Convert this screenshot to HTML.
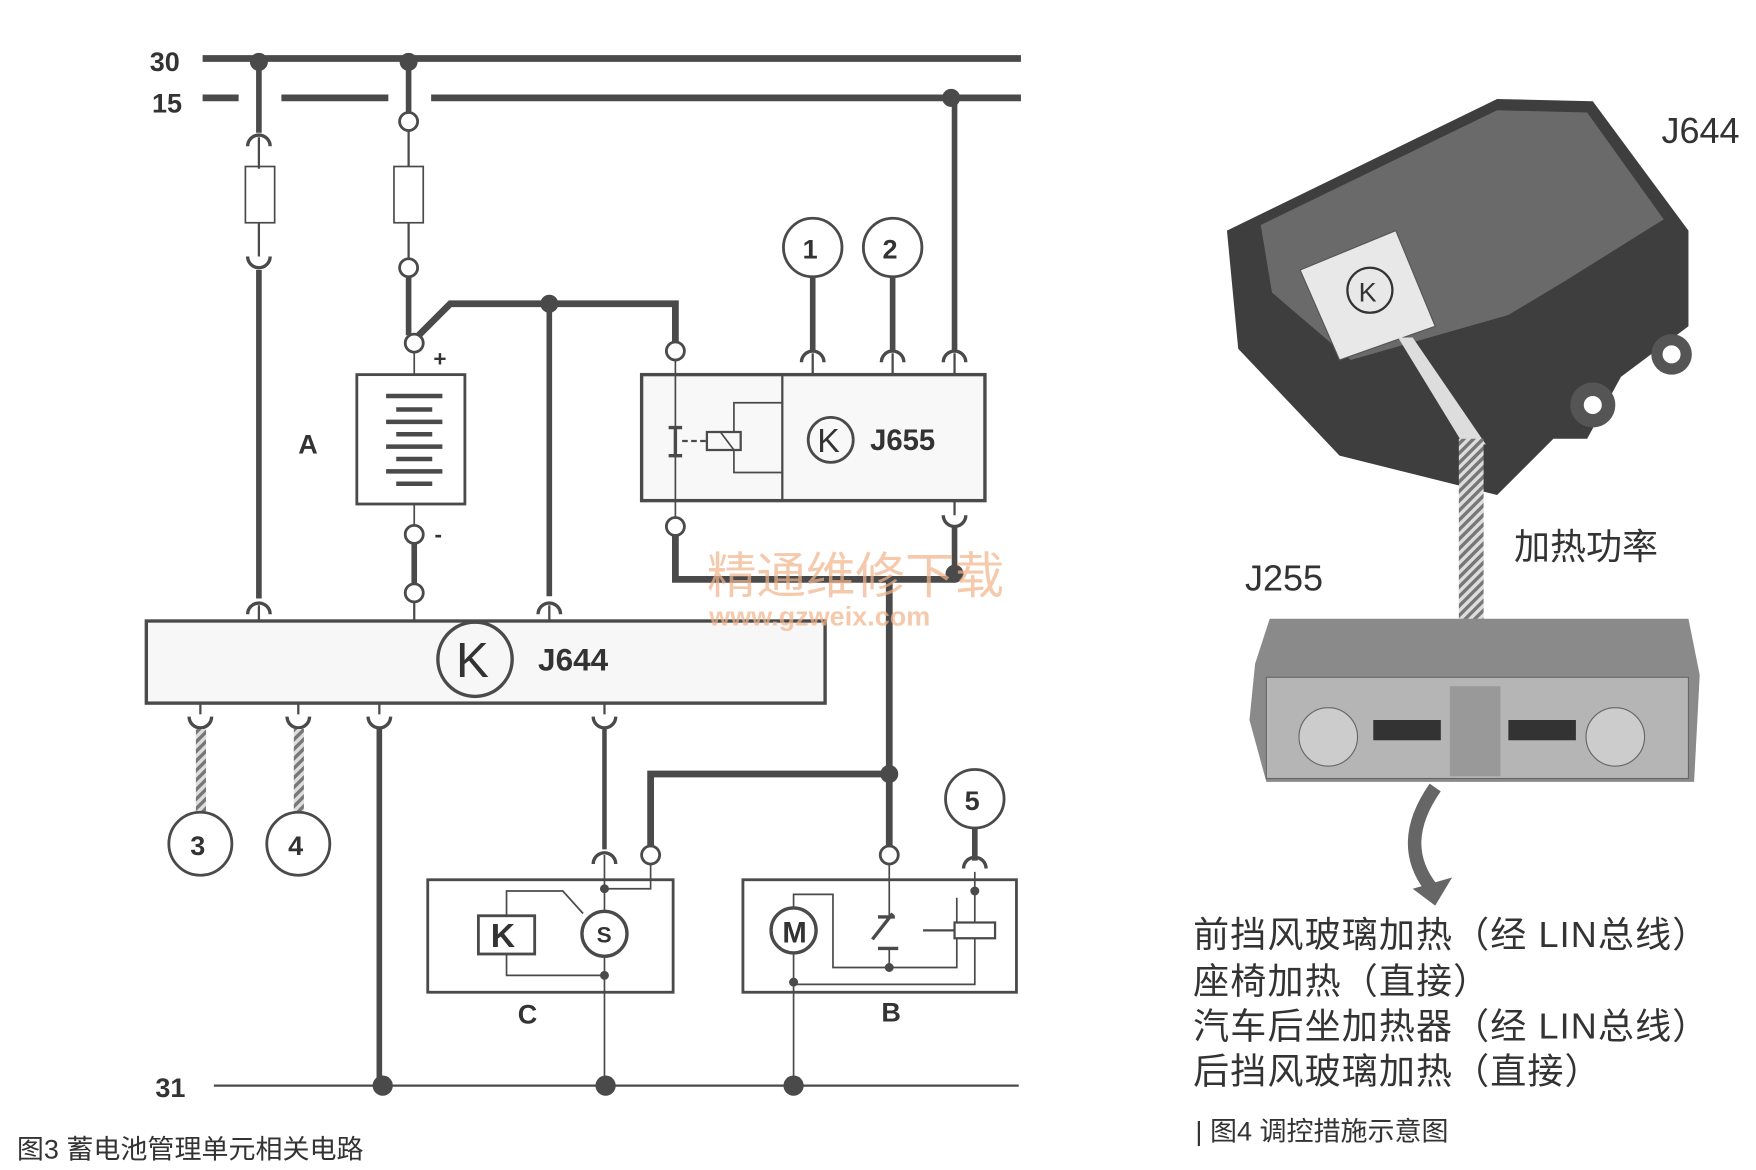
<!DOCTYPE html>
<html><head><meta charset="utf-8"><style>
html,body{margin:0;padding:0;background:#fff;}
svg{display:block;}
text{font-family:"Liberation Sans","Noto Sans CJK SC",sans-serif;}
</style></head><body>
<svg width="1756" height="1170" viewBox="0 0 1560 1040" preserveAspectRatio="none" xmlns="http://www.w3.org/2000/svg">
<defs>
<pattern id="hatch" width="6" height="6" patternUnits="userSpaceOnUse" patternTransform="rotate(45)">
<rect width="6" height="6" fill="#ddd"/><rect width="3" height="6" fill="#777"/></pattern>
</defs>
<g stroke="#4a4a4a" fill="none">
<line x1="180" y1="52" x2="907" y2="52" stroke-width="6"/>
<line x1="180" y1="87" x2="212" y2="87" stroke-width="6"/>
<line x1="250" y1="87" x2="345" y2="87" stroke-width="6"/>
<line x1="383" y1="87" x2="907" y2="87" stroke-width="6"/>
<line x1="190" y1="965" x2="905" y2="965" stroke-width="2"/>
<line x1="230" y1="55" x2="230" y2="118" stroke-width="5"/>
<path d="M220 130 A10 10 0 0 1 240 130" stroke-width="3"/>
<line x1="230" y1="122" x2="230" y2="150" stroke-width="2"/>
<rect x="218" y="148" width="26" height="50" stroke-width="1.5"/>
<line x1="230" y1="198" x2="230" y2="228" stroke-width="2"/>
<path d="M220 228 A10 10 0 0 0 240 228" stroke-width="3"/>
<line x1="230" y1="240" x2="230" y2="532" stroke-width="5"/>
<path d="M220 546 A10 10 0 0 1 240 546" stroke-width="3"/>
<line x1="230" y1="538" x2="230" y2="552" stroke-width="2"/>
<line x1="363" y1="55" x2="363" y2="100" stroke-width="5"/>
<circle cx="363" cy="108" r="8" stroke-width="2.5" fill="#fff"/>
<line x1="363" y1="116" x2="363" y2="148" stroke-width="2"/>
<rect x="350" y="148" width="26" height="50" stroke-width="1.5"/>
<line x1="363" y1="198" x2="363" y2="230" stroke-width="2"/>
<circle cx="363" cy="238" r="8" stroke-width="2.5" fill="#fff"/>
<line x1="363" y1="246" x2="363" y2="298" stroke-width="5"/>
<circle cx="368" cy="305" r="8" stroke-width="2.5" fill="#fff"/>
<path d="M372 298 L400 270 L600 270 L600 304" stroke-width="6"/>
<circle cx="600" cy="312" r="8" stroke-width="2.5" fill="#fff"/>
<line x1="368" y1="313" x2="368" y2="333" stroke-width="1.5"/>
<rect x="317" y="333" width="96" height="115" stroke-width="2.5"/>
<line x1="368" y1="448" x2="368" y2="467" stroke-width="1.5"/>
<circle cx="368" cy="475" r="8" stroke-width="2.5" fill="#fff"/>
<line x1="368" y1="483" x2="368" y2="519" stroke-width="5"/>
<circle cx="368" cy="527" r="8" stroke-width="2.5" fill="#fff"/>
<line x1="368" y1="535" x2="368" y2="552" stroke-width="2"/>
<line x1="488" y1="270" x2="488" y2="530" stroke-width="5"/>
<path d="M478 546 A10 10 0 0 1 498 546" stroke-width="3"/>
<line x1="488" y1="538" x2="488" y2="552" stroke-width="2"/>
<rect x="130" y="552" width="603" height="73" stroke-width="3" fill="#f7f7f7"/>
<circle cx="422" cy="586" r="33" stroke-width="3"/>
<rect x="570" y="333" width="305" height="112" stroke-width="3" fill="#f8f8f8"/>
<line x1="695" y1="333" x2="695" y2="445" stroke-width="2"/>
<line x1="600" y1="320" x2="600" y2="460" stroke-width="1.5"/>
<path d="M594 380 H606 M600 380 V405 M594 405 H606" stroke-width="3"/>
<path d="M606 392 H628" stroke-width="2" stroke-dasharray="5 3"/>
<rect x="628" y="384" width="30" height="16" stroke-width="2"/>
<path d="M652 400 L640 384" stroke-width="1.5"/>
<path d="M652 384 V358 H695 M652 400 V420 H695" stroke-width="1.5"/>
<circle cx="738" cy="391" r="20" stroke-width="2.5"/>
<circle cx="600" cy="468" r="8" stroke-width="2.5" fill="#fff"/>
<path d="M600 476 V515 H848" stroke-width="6"/>
<line x1="790" y1="515" x2="790" y2="752" stroke-width="6"/>
<circle cx="790" cy="760" r="8" stroke-width="2.5" fill="#fff"/>
<path d="M790 688 H578 V752" stroke-width="6"/>
<circle cx="578" cy="760" r="8" stroke-width="2.5" fill="#fff"/>
<line x1="722" y1="246" x2="722" y2="312" stroke-width="5"/>
<line x1="793" y1="246" x2="793" y2="312" stroke-width="5"/>
<line x1="848" y1="87" x2="848" y2="312" stroke-width="5"/>
<path d="M712 322 A10 10 0 0 1 732 322 M783 322 A10 10 0 0 1 803 322 M838 322 A10 10 0 0 1 858 322" stroke-width="3"/>
<path d="M722 314 V333 M793 314 V333 M848 314 V333" stroke-width="2"/>
<path d="M848 445 V458" stroke-width="2"/>
<path d="M838 458 A10 10 0 0 0 858 458" stroke-width="3"/>
<line x1="848" y1="468" x2="848" y2="510" stroke-width="5"/>
<circle cx="722" cy="220" r="26" stroke-width="2.5"/>
<circle cx="793" cy="220" r="26" stroke-width="2.5"/>
<path d="M178 625 V635 M265 625 V635 M337 625 V635 M537 625 V635" stroke-width="2"/>
<path d="M168 637 A10 10 0 0 0 188 637 M255 637 A10 10 0 0 0 275 637 M327 637 A10 10 0 0 0 347 637 M527 637 A10 10 0 0 0 547 637" stroke-width="3"/>
<rect x="174" y="648" width="9" height="75" fill="url(#hatch)" stroke="none"/>
<rect x="261" y="648" width="9" height="75" fill="url(#hatch)" stroke="none"/>
<circle cx="178" cy="750" r="28" stroke-width="2.5"/>
<circle cx="265" cy="750" r="28" stroke-width="2.5"/>
<line x1="337" y1="648" x2="337" y2="965" stroke-width="5"/>
<line x1="537" y1="648" x2="537" y2="755" stroke-width="4"/>
<path d="M527 768 A10 10 0 0 1 547 768" stroke-width="3"/>
<rect x="380" y="782" width="218" height="100" stroke-width="2.5"/>
<path d="M537 760 V790 M578 768 V790 H537" stroke-width="1.5"/>
<line x1="537" y1="790" x2="537" y2="965" stroke-width="1.5"/>
<circle cx="537" cy="790" r="3.5" fill="#4a4a4a"/>
<circle cx="537" cy="867" r="3.5" fill="#4a4a4a"/>
<circle cx="537" cy="830" r="20" stroke-width="3" fill="#fff"/>
<rect x="425" y="814" width="50" height="34" stroke-width="2.5"/>
<path d="M450 814 V792 H500 L518 812 M450 848 V867 H537" stroke-width="1.5"/>
<rect x="660" y="782" width="243" height="100" stroke-width="2.5"/>
<line x1="790" y1="768" x2="790" y2="815" stroke-width="1.5"/>
<path d="M780 815 H795 M775 835 L793 812 M780 843 H798" stroke-width="3"/>
<path d="M790 843 V860 H850 V798" stroke-width="1.5"/>
<circle cx="790" cy="860" r="3.5" fill="#4a4a4a"/>
<line x1="866" y1="736" x2="866" y2="765" stroke-width="5"/>
<path d="M856 772 A10 10 0 0 1 876 772" stroke-width="3"/>
<path d="M866 775 V875 H705" stroke-width="1.5"/>
<circle cx="866" cy="792" r="3.5" fill="#4a4a4a"/>
<rect x="848" y="820" width="36" height="14" stroke-width="2" fill="#fff"/>
<path d="M820 827 H848" stroke-width="2"/>
<circle cx="866" cy="710" r="26" stroke-width="2.5"/>
<circle cx="705" cy="827" r="20" stroke-width="3" fill="#fff"/>
<path d="M705 807 V795 H740 V860 H790" stroke-width="1.5"/>
<line x1="705" y1="847" x2="705" y2="965" stroke-width="1.5"/>
<circle cx="705" cy="873" r="3.5" fill="#4a4a4a"/>
</g>
<g fill="#4a4a4a">
<rect x="343" y="350" width="50" height="4"/><rect x="352" y="362" width="32" height="4"/>
<rect x="343" y="373" width="50" height="4"/><rect x="352" y="384" width="32" height="4"/>
<rect x="343" y="395" width="50" height="4"/><rect x="352" y="406" width="32" height="4"/>
<rect x="343" y="417" width="50" height="4"/><rect x="352" y="428" width="32" height="4"/>
<circle cx="230" cy="55" r="8"/><circle cx="363" cy="55" r="8"/><circle cx="845" cy="87" r="8"/>
<circle cx="488" cy="270" r="8"/><circle cx="848" cy="510" r="8"/><circle cx="790" cy="688" r="8"/>
<circle cx="340" cy="965" r="9"/><circle cx="538" cy="965" r="9"/><circle cx="705" cy="965" r="9"/>
</g>
<g fill="#333" font-weight="bold">
<text x="133" y="63" font-size="24">30</text>
<text x="135" y="100" font-size="24">15</text>
<text x="138" y="975" font-size="24">31</text>
<text x="265" y="403" font-size="24">A</text>
<text x="385" y="326" font-size="20">+</text>
<text x="386" y="482" font-size="20">-</text>
<text x="460" y="910" font-size="24">C</text>
<text x="783" y="908" font-size="24">B</text>
<text x="405" y="602" font-size="44" font-weight="normal">K</text>
<text x="478" y="596" font-size="28">J644</text>
<text x="726" y="402" font-size="30" font-weight="normal">K</text>
<text x="773" y="400" font-size="26">J655</text>
<text x="713" y="230" font-size="24">1</text>
<text x="784" y="230" font-size="24">2</text>
<text x="169" y="760" font-size="24">3</text>
<text x="256" y="760" font-size="24">4</text>
<text x="857" y="720" font-size="24">5</text>
<text x="436" y="842" font-size="30">K</text>
<text x="695" y="838" font-size="26">M</text>
<text x="530" y="838" font-size="20">S</text>
</g>
<text x="628" y="527" font-size="44" fill="#f2b48a" opacity="0.7">精通维修下载</text>
<text x="630" y="556" font-size="24" fill="#f2b48a" opacity="0.7" font-weight="bold">www.gzweix.com</text>
<text x="15" y="1030" font-size="24" fill="#333">图3  蓄电池管理单元相关电路</text>
<polygon points="1090,205 1330,88 1415,90 1500,205 1500,290 1440,335 1410,390 1380,390 1330,440 1190,405 1100,310" fill="#3e3e3e"/>
<polygon points="1120,200 1330,98 1410,100 1478,195 1390,250 1340,280 1200,320 1130,260" fill="#6a6a6a"/>
<polygon points="1155,240 1240,205 1275,290 1190,320" fill="#e8e8e8" stroke="#555"/>
<circle cx="1217" cy="258" r="20" fill="none" stroke="#333" stroke-width="2"/>
<text x="1207" y="268" font-size="24" fill="#333">K</text>
<circle cx="1485" cy="315" r="18" fill="#555"/><circle cx="1485" cy="315" r="8" fill="#fff"/>
<circle cx="1415" cy="360" r="20" fill="#555"/><circle cx="1415" cy="360" r="8" fill="#fff"/>
<polygon points="1242,300 1300,395 1320,395 1255,300" fill="#ddd"/>
<rect x="1296" y="390" width="22" height="170" fill="url(#hatch)"/>
<text x="1476" y="127" font-size="32" fill="#333">J644</text>
<text x="1106" y="525" font-size="32" fill="#333">J255</text>
<text x="1345" y="497" font-size="32" fill="#333" font-family="Noto Sans CJK SC,sans-serif">加热功率</text>
<polygon points="1128,550 1500,550 1510,600 1505,695 1125,695 1110,640 1115,590" fill="#8a8a8a"/>
<rect x="1125" y="602" width="375" height="90" fill="#b5b5b5" stroke="#666"/>
<circle cx="1180" cy="655" r="26" fill="#ccc" stroke="#666"/>
<circle cx="1435" cy="655" r="26" fill="#ccc" stroke="#666"/>
<rect x="1220" y="640" width="60" height="18" fill="#333"/>
<rect x="1340" y="640" width="60" height="18" fill="#333"/>
<rect x="1288" y="610" width="45" height="80" fill="#999"/>
<path d="M1275 700 Q1240 750 1272 790" fill="none" stroke="#666" stroke-width="12"/>
<polygon points="1255,790 1290,780 1275,805" fill="#666"/>
<g font-size="32" fill="#333" font-family="Noto Sans CJK SC,sans-serif" letter-spacing="1">
<text x="1060" y="842">前挡风玻璃加热（经 LIN总线）</text>
<text x="1060" y="883">座椅加热（直接）</text>
<text x="1060" y="923">汽车后坐加热器（经 LIN总线）</text>
<text x="1060" y="963">后挡风玻璃加热（直接）</text>
</g>
<text x="1062" y="1014" font-size="24" fill="#333">|  图4  调控措施示意图</text>
</svg>
</body></html>
